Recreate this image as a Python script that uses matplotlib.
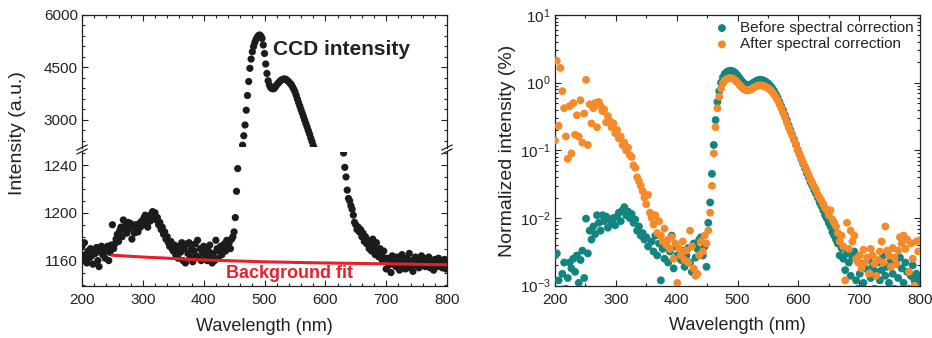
import numpy as np
import matplotlib
matplotlib.use("Agg")
import matplotlib.pyplot as plt
from matplotlib.ticker import MultipleLocator, LogLocator, NullFormatter
from matplotlib.lines import Line2D

plt.rcParams['font.family'] = ['Liberation Sans', 'DejaVu Sans']
plt.rcParams['mathtext.fontset'] = 'custom'
plt.rcParams['mathtext.rm'] = 'Liberation Sans'
plt.rcParams['mathtext.it'] = 'Liberation Sans:italic'
plt.rcParams['mathtext.bf'] = 'Liberation Sans:bold'

# ---------------- data: left panel (CCD intensity, 2 nm grid) ----------------
wl_ccd = np.arange(200, 801, 2)
ccd_intensity = [
    1172, 1160, 1175, 1165, 1158, 1168, 1162, 1170, 1164, 1157, 1169, 1166, 1171, 1160, 1155, 1168, 1172, 1165, 1170, 1162, 1168, 1172, 1160, 1167, 1173,
    1190, 1170, 1174, 1178, 1182, 1176, 1185, 1188, 1180, 1194, 1186, 1190, 1183, 1192, 1187, 1191, 1178, 1189, 1183, 1190, 1186, 1184, 1191, 1188, 1193,
    1190, 1196, 1198, 1192, 1188, 1195, 1193, 1199, 1201, 1197, 1200, 1194, 1196, 1190, 1192, 1186, 1188, 1182, 1184, 1178, 1180, 1175, 1172, 1176, 1170,
    1168, 1173, 1165, 1170, 1162, 1172, 1167, 1175, 1160, 1170, 1158, 1174, 1166, 1175, 1163, 1170, 1159, 1168, 1174, 1164, 1177, 1162, 1170, 1160, 1167,
    1172, 1165, 1170, 1160, 1168, 1173, 1163, 1158, 1166, 1160, 1177, 1170, 1162, 1168, 1172, 1165, 1170, 1174, 1168, 1177, 1172, 1175, 1170, 1178, 1180,
    1184, 1196, 1218, 1237, 1300, 1600, 1950, 2280, 2550, 2857, 3280, 3700, 4100, 4476, 4740, 4950, 5100, 5210, 5300, 5360, 5410, 5430, 5400, 5330, 5143,
    4900, 4600, 4330, 4120, 4000, 3930, 3900, 3890, 3900, 3950, 4000, 4040, 4080, 4120, 4143, 4160, 4170, 4170, 4150, 4120, 4090, 4050, 4010, 3950, 3880,
    3810, 3710, 3600, 3500, 3400, 3300, 3200, 3100, 3000, 2900, 2800, 2700, 2600, 2490, 2390, 2280, 2180, 2080, 1990, 1900, 1820, 1750, 1680, 1620, 1570,
    1520, 1480, 1440, 1410, 1380, 1360, 1340, 1320, 1305, 1290, 1280, 1272, 1265, 1258, 1256, 1250, 1238, 1230, 1219, 1212, 1210, 1206, 1203, 1198, 1192,
    1190, 1186, 1188, 1184, 1186, 1180, 1183, 1176, 1180, 1174, 1177, 1170, 1175, 1168, 1178, 1172, 1165, 1175, 1168, 1163, 1170, 1166, 1160, 1168, 1162,
    1153, 1162, 1156, 1160, 1150, 1164, 1157, 1161, 1155, 1163, 1158, 1152, 1160, 1165, 1156, 1159, 1153, 1162, 1157, 1166, 1154, 1160, 1151, 1158, 1163,
    1156, 1161, 1154, 1159, 1164, 1157, 1162, 1155, 1160, 1158, 1163, 1154, 1160, 1157, 1152, 1161, 1158, 1155, 1162, 1157, 1160, 1154, 1159, 1161, 1153,
    1156,
]
bg_wl = [250, 300, 400, 500, 600, 700, 800]
bg_fit = [1164.5, 1163, 1160.5, 1159, 1158, 1157.3, 1156.5]

# ---------------- data: right panel (normalized, 3 nm grid) ----------------
wl_norm = np.arange(200, 801, 3)
before_corr = [
    0.0028, 0.003, 0.0012, 0.0008, 0.0015, 0.0022, 0.0009, 0.0013, 0.0022, 0.0018,
    0.0025, 0.0016, 0.0028, 0.0011, 0.0024, 0.0033, 0.0013, 0.0098, 0.003, 0.0065,
    0.0048, 0.0075, 0.0058, 0.011, 0.0085, 0.0065, 0.011, 0.009, 0.0105, 0.0072,
    0.0095, 0.0085, 0.01, 0.0078, 0.0105, 0.012, 0.009, 0.013, 0.0145, 0.011,
    0.0125, 0.01, 0.0115, 0.0085, 0.0095, 0.0065, 0.0075, 0.0055, 0.006, 0.0048,
    0.0052, 0.0038, 0.0008, 0.0045, 0.0032, 0.0055, 0.0028, 0.0042, 0.0012, 0.0035,
    0.0025, 0.0045, 0.0022, 0.0032, 0.0055, 0.0018, 0.0038, 0.0028, 0.0006, 0.0024,
    0.0033, 0.0019, 0.0028, 0.0036, 0.0022, 0.0016, 0.0042, 0.0026, 0.0035, 0.0048,
    0.0052, 0.0028, 0.0038, 0.0019, 0.0085, 0.017, 0.045, 0.12, 0.28, 0.52,
    0.75, 1.0, 1.2, 1.35, 1.43, 1.48, 1.5, 1.49, 1.45, 1.38,
    1.28, 1.18, 1.09, 1.01, 0.96, 0.93, 0.92, 0.93, 0.97, 1.01,
    1.05, 1.08, 1.1, 1.1, 1.08, 1.05, 1.01, 0.96, 0.9, 0.83,
    0.76, 0.68, 0.6, 0.52, 0.45, 0.39, 0.33, 0.28, 0.235, 0.2,
    0.17, 0.145, 0.122, 0.102, 0.087, 0.074, 0.063, 0.054, 0.046, 0.04,
    0.034, 0.03, 0.026, 0.023, 0.02, 0.017, 0.015, 0.013, 0.011, 0.0098,
    0.0085, 0.0075, 0.0062, 0.0055, 0.0048, 0.0042, 0.0028, 0.0036, 0.0025, 0.0017,
    0.003, 0.0022, 0.0014, 0.0026, 0.0032, 0.0012, 0.0009, 0.0015, 0.0021, 0.0011,
    0.0018, 0.0008, 0.0024, 0.0013, 0.0019, 0.0009, 0.0016, 0.0022, 0.0012, 0.0017,
    0.0028, 0.0014, 0.0019, 0.0011, 0.0024, 0.0015, 0.0009, 0.0021, 0.0013, 0.0026,
    0.0018, 0.0011, 0.0022, 0.0016, 0.0009, 0.0014, 0.002, 0.0012, 0.0015, 0.0011,
    0.0013,
]
after_corr = [
    0.14, 2.1, 0.23, 1.65, 0.75, 0.42, 0.16, 0.075, 0.45, 0.09,
    0.5, 0.17, 0.33, 0.16, 0.55, 0.13, 0.35, 1.1, 0.12, 0.48,
    0.25, 0.42, 0.5, 0.22, 0.52, 0.45, 0.38, 0.4, 0.26, 0.32,
    0.27, 0.22, 0.25, 0.18, 0.2, 0.15, 0.16, 0.12, 0.13, 0.1,
    0.11, 0.085, 0.08, 0.06, 0.055, 0.04, 0.035, 0.03, 0.025, 0.02,
    0.016, 0.022, 0.012, 0.01, 0.008, 0.011, 0.006, 0.009, 0.0055, 0.0045,
    0.007, 0.004, 0.0048, 0.0035, 0.0052, 0.0025, 0.0042, 0.0011, 0.0035, 0.0028,
    0.0045, 0.0024, 0.0033, 0.0022, 0.0065, 0.0038, 0.0018, 0.0014, 0.0015, 0.0028,
    0.0045, 0.0032, 0.0055, 0.0042, 0.0065, 0.012, 0.03, 0.09, 0.22, 0.42,
    0.62, 0.82, 0.98, 1.08, 1.13, 1.16, 1.17, 1.16, 1.13, 1.07,
    1.0, 0.93, 0.87, 0.82, 0.79, 0.77, 0.77, 0.79, 0.82, 0.85,
    0.88, 0.9, 0.91, 0.91, 0.9, 0.88, 0.85, 0.82, 0.78, 0.73,
    0.67, 0.61, 0.55, 0.48, 0.42, 0.36, 0.31, 0.26, 0.22, 0.19,
    0.165, 0.14, 0.12, 0.1, 0.088, 0.075, 0.065, 0.057, 0.05, 0.043,
    0.037, 0.033, 0.029, 0.026, 0.022, 0.02, 0.018, 0.016, 0.014, 0.013,
    0.011, 0.013, 0.0095, 0.0085, 0.0075, 0.006, 0.0045, 0.0055, 0.0038, 0.0012,
    0.0085, 0.0035, 0.0065, 0.0045, 0.0055, 0.0025, 0.0022, 0.0028, 0.0018, 0.0034,
    0.0022, 0.0026, 0.0015, 0.0035, 0.0028, 0.0021, 0.0014, 0.0024, 0.0032, 0.0045,
    0.0022, 0.0075, 0.0033, 0.0028, 0.0019, 0.0036, 0.0026, 0.0021, 0.0033, 0.0052,
    0.0042, 0.0055, 0.0035, 0.0048, 0.0016, 0.0042, 0.0025, 0.001, 0.0045, 0.0032,
    0.0047,
]

series_labels = ["Before spectral correction", "After spectral correction"]

# ---------------- styling ----------------
W, H = 932, 338
DARK = '#222222'
TEAL = '#138580'
ORANGE = '#F58A2B'
RED = '#E8202A'
DOT = '#1c1c1c'

fig = plt.figure(figsize=(W / 100, H / 100), dpi=100)

def fx(px):
    return px / W

def fy(py):
    return 1 - py / H

L, R = 82, 447
TOP, BOT = 15, 285.7
BRK_T, BRK_B = 147.5, 151.5

ax_top = fig.add_axes([fx(L), fy(BRK_T), fx(R - L), (BRK_T - TOP) / H])
ax_bot = fig.add_axes([fx(L), fy(BOT), fx(R - L), (BOT - BRK_B) / H])
ax_r = fig.add_axes([fx(555), fy(BOT), fx(920 - 555), (BOT - TOP) / H])

def style(ax):
    ax.tick_params(which='both', direction='in', colors=DARK, labelsize=11,
                   width=0.8, labelcolor=DARK)
    ax.tick_params(which='major', length=4)
    ax.tick_params(which='minor', length=2)
    for s in ax.spines.values():
        s.set_linewidth(0.9)
        s.set_color(DARK)

for ax in (ax_top, ax_bot):
    ax.scatter(wl_ccd, ccd_intensity, s=27, color=DOT, edgecolors='none', zorder=3)
    ax.set_xlim(200, 800)
    ax.xaxis.set_major_locator(MultipleLocator(100))
    ax.xaxis.set_minor_locator(MultipleLocator(20))
    style(ax)

ax_bot.plot(bg_wl, bg_fit, color=RED, lw=2.2, zorder=4)

ax_top.set_ylim(2214, 6000)
ax_top.yaxis.set_major_locator(MultipleLocator(1500))
ax_top.yaxis.set_minor_locator(MultipleLocator(300))
ax_top.spines['bottom'].set_visible(False)
ax_top.tick_params(which='both', bottom=False, top=True, labelbottom=False,
                   left=True, right=True, pad=3)

ax_bot.set_ylim(1139, 1251.3)
ax_bot.yaxis.set_major_locator(MultipleLocator(40))
ax_bot.yaxis.set_minor_locator(MultipleLocator(10))
ax_bot.spines['top'].set_visible(False)
ax_bot.tick_params(which='both', bottom=True, top=False, left=True, right=True)
ax_bot.tick_params(axis='y', pad=3)
ax_bot.tick_params(axis='x', pad=5)

ax_top.text(514, 5000, "CCD intensity", fontsize=15, fontweight='bold',
            color=DARK, ha='left', va='center')
ax_bot.text(437, 1149, "Background fit", fontsize=13, fontweight='bold',
            color=RED, ha='left', va='center', zorder=5)

# break marks
for xc in (L, R):
    for yc in (BRK_T, BRK_B):
        fig.add_artist(Line2D([fx(xc - 5), fx(xc + 5)], [fy(yc + 2.5), fy(yc - 2.5)],
                              color=DARK, lw=0.9, transform=fig.transFigure))

fig.text(fx(264.5), fy(326.5), "Wavelength (nm)", fontsize=13, color=DARK,
         ha='center', va='center')
fig.text(fx(17.5), fy(133.5), "Intensity (a.u.)", fontsize=14, color=DARK,
         ha='center', va='center', rotation=90)

# right panel
ax_r.scatter(wl_norm, before_corr, s=32, color=TEAL, edgecolors='none',
             label=series_labels[0], zorder=3)
ax_r.scatter(wl_norm, after_corr, s=32, color=ORANGE, edgecolors='none',
             label=series_labels[1], zorder=4)
ax_r.set_yscale('log')
ax_r.set_ylim(1e-3, 10)
ax_r.set_xlim(200, 800)
ax_r.xaxis.set_major_locator(MultipleLocator(100))
ax_r.xaxis.set_minor_locator(MultipleLocator(50))
ax_r.yaxis.set_major_locator(LogLocator(base=10, numticks=10))
ax_r.yaxis.set_minor_locator(LogLocator(base=10, subs=np.arange(2, 10), numticks=20))
ax_r.yaxis.set_minor_formatter(NullFormatter())
style(ax_r)
ax_r.tick_params(which='both', top=True, right=True)
ax_r.tick_params(axis='y', pad=3)
ax_r.tick_params(axis='x', pad=5)

leg = ax_r.legend(loc='upper right', frameon=False, fontsize=11,
                  handletextpad=0.6, labelspacing=0.15, borderaxespad=0.2,
                  scatterpoints=1, handlelength=1.2, borderpad=0.2)
for t in leg.get_texts():
    t.set_color(DARK)

fig.text(fx(737.5), fy(325.5), "Wavelength (nm)", fontsize=13, color=DARK,
         ha='center', va='center')
fig.text(fx(507.5), fy(150.4), "Normalized intensity (%)", fontsize=14, color=DARK,
         ha='center', va='center', rotation=90)

fig.savefig("out.png", dpi=100)
